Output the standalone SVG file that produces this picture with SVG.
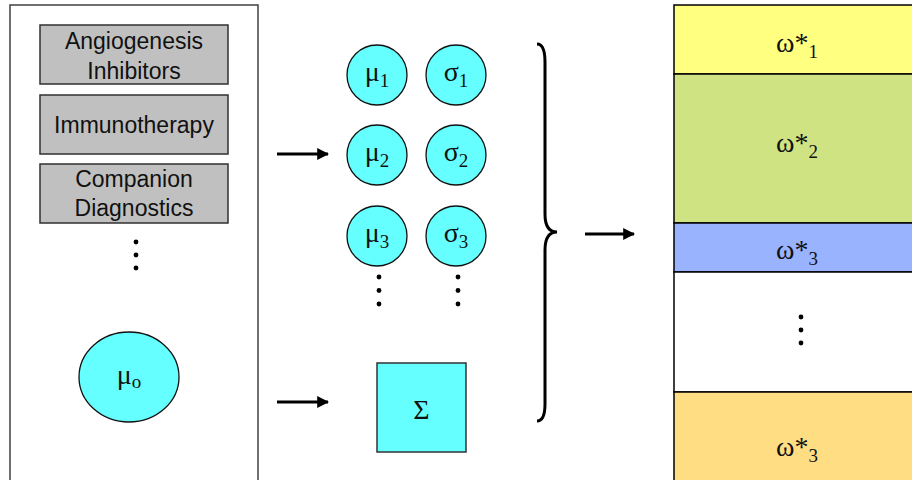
<svg xmlns="http://www.w3.org/2000/svg" width="912" height="480" viewBox="0 0 912 480">
<defs>
<style>
.panel{fill:#fff;stroke:#404040;stroke-width:1.5}
.gbox{fill:#c0c0c0;stroke:#303030;stroke-width:1.5}
.lbl{font-family:"Liberation Sans",Arial,sans-serif;font-size:23px;fill:#111;text-anchor:middle}
.cyan{fill:#66ffff;stroke:#111;stroke-width:1.3}
.greek{font-family:"Liberation Serif","Times New Roman",serif;font-size:28px;fill:#111;text-anchor:middle}
.sub{font-size:19px}
.dot{fill:#000}
.arrow{stroke:#000;stroke-width:3;fill:none;marker-end:url(#ah)}
.row{stroke:#000;stroke-width:1.5}
</style>
<marker id="ah" viewBox="0 0 10 10" refX="9" refY="5" markerWidth="4" markerHeight="4" orient="auto" markerUnits="strokeWidth">
<path d="M0,0 L10,5 L0,10 z" fill="#000"/>
</marker>
</defs>
<rect width="912" height="480" fill="#fff"/>

<g id="left-panel">
<rect class="panel" x="10" y="5" width="248" height="480"/>
</g>
<g id="node-angio">
<rect class="gbox" x="40" y="25" width="188" height="59"/>
<text class="lbl" x="134" y="49">Angiogenesis</text>
<text class="lbl" x="134" y="79">Inhibitors</text>
</g>
<g id="node-immuno">
<rect class="gbox" x="40" y="95" width="188" height="59"/>
<text class="lbl" x="134" y="133">Immunotherapy</text>
</g>
<g id="node-companion">
<rect class="gbox" x="40" y="164" width="188" height="59"/>
<text class="lbl" x="134" y="187">Companion</text>
<text class="lbl" x="134" y="216">Diagnostics</text>
</g>
<g id="dots-left">
<circle class="dot" cx="136" cy="242" r="2.4"/>
<circle class="dot" cx="136" cy="255" r="2.4"/>
<circle class="dot" cx="136" cy="268" r="2.4"/>
</g>
<g id="node-mu0">
<ellipse class="cyan" cx="129" cy="377" rx="50" ry="45"/>
<text class="greek" x="129" y="384">μ<tspan class="sub" dy="4">o</tspan></text>
</g>

<g id="node-mu1"><circle class="cyan" cx="377" cy="75" r="30"/><text class="greek" x="377" y="81">μ<tspan class="sub" dy="6">1</tspan></text></g>
<g id="node-sigma1"><circle class="cyan" cx="456" cy="75" r="30"/><text class="greek" x="456" y="81">σ<tspan class="sub" dy="6">1</tspan></text></g>
<g id="node-mu2"><circle class="cyan" cx="377" cy="155" r="30"/><text class="greek" x="377" y="161">μ<tspan class="sub" dy="6">2</tspan></text></g>
<g id="node-sigma2"><circle class="cyan" cx="456" cy="155" r="30"/><text class="greek" x="456" y="161">σ<tspan class="sub" dy="6">2</tspan></text></g>
<g id="node-mu3"><circle class="cyan" cx="377" cy="236" r="30"/><text class="greek" x="377" y="242">μ<tspan class="sub" dy="6">3</tspan></text></g>
<g id="node-sigma3"><circle class="cyan" cx="456" cy="236" r="30"/><text class="greek" x="456" y="242">σ<tspan class="sub" dy="6">3</tspan></text></g>
<g id="dots-mid">
<circle class="dot" cx="379" cy="277" r="2.4"/>
<circle class="dot" cx="379" cy="290.5" r="2.4"/>
<circle class="dot" cx="379" cy="304" r="2.4"/>
<circle class="dot" cx="458" cy="277" r="2.4"/>
<circle class="dot" cx="458" cy="290.5" r="2.4"/>
<circle class="dot" cx="458" cy="304" r="2.4"/>
</g>
<g id="node-Sigma">
<rect x="377" y="363" width="89" height="89" fill="#66ffff" stroke="#333" stroke-width="1.5"/>
<text class="greek" x="421.5" y="419">Σ</text>
</g>

<g id="connectors">
<line class="arrow" x1="277" y1="154" x2="328" y2="154"/>
<line class="arrow" x1="277" y1="402" x2="328" y2="402"/>
<line class="arrow" x1="585" y1="234" x2="634" y2="234"/>
<path d="M537 44 Q545 44 545 62 L545 214 Q545 232 557 232 Q545 232 545 250 L545 404 Q545 421 537 421" fill="none" stroke="#000" stroke-width="3"/>
</g>

<g id="node-w1">
<rect class="row" x="674" y="5" width="245" height="69" fill="#ffff80"/>
<text class="greek" x="797" y="52">ω*<tspan class="sub" dy="6">1</tspan></text>
</g>
<g id="node-w2">
<rect class="row" x="674" y="74" width="245" height="149" fill="#cfe383"/>
<text class="greek" x="797" y="152">ω*<tspan class="sub" dy="6">2</tspan></text>
</g>
<g id="node-w3">
<rect class="row" x="674" y="223" width="245" height="49" fill="#99b3ff"/>
<text class="greek" x="797" y="259">ω*<tspan class="sub" dy="6">3</tspan></text>
</g>
<g id="node-wdots">
<rect class="row" x="674" y="272" width="245" height="120" fill="#fff"/>
<circle class="dot" cx="801" cy="317" r="2.4"/>
<circle class="dot" cx="801" cy="330" r="2.4"/>
<circle class="dot" cx="801" cy="343" r="2.4"/>
</g>
<g id="node-w3b">
<rect class="row" x="674" y="392" width="245" height="95" fill="#ffde83"/>
<text class="greek" x="797" y="456">ω*<tspan class="sub" dy="6">3</tspan></text>
</g>
</svg>
